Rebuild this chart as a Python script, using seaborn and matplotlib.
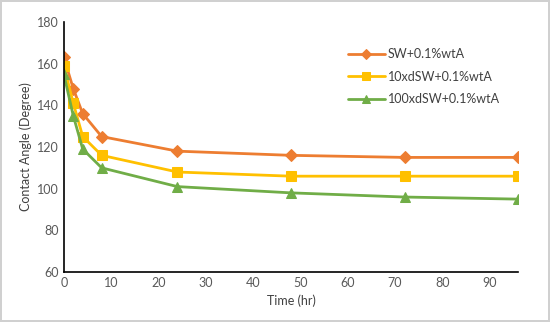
import matplotlib
matplotlib.use('Agg')
import matplotlib.pyplot as plt
import pandas as pd
import seaborn as sns

time_hr = [0, 2, 4, 8, 24, 48, 72, 96]
sw = [163, 148, 136, 125, 118, 116, 115, 115]
sw10 = [159, 141, 125, 116, 108, 106, 106, 106]
sw100 = [155, 135, 119, 110, 101, 98, 96, 95]
labels = ['SW+0.1%wtA', '10xdSW+0.1%wtA', '100xdSW+0.1%wtA']
colors = ['#ED7D31', '#FFC000', '#70AD47']
markers = ['D', 's', '^']

df = pd.DataFrame({'Time': time_hr * 3,
                   'Angle': sw + sw10 + sw100,
                   'Series': [labels[0]] * 8 + [labels[1]] * 8 + [labels[2]] * 8})

sns.set_style('white')
plt.rcParams['font.family'] = ['Lato', 'DejaVu Sans']

fig = plt.figure(figsize=(5.5, 3.22), dpi=100)
ax = fig.add_axes([0.116, 0.155, 0.826, 0.777])

for lab, c, m in zip(labels, colors, markers):
    d = df[df['Series'] == lab]
    ms = 6 if m == 'D' else 7
    sns.lineplot(data=d, x='Time', y='Angle', ax=ax, color=c, marker=m,
                 markersize=ms, markeredgecolor=c, linewidth=2, label=lab)

ax.set_xlim(0, 96)
ax.set_ylim(60, 180)
ax.set_xticks(range(0, 100, 10))
ax.set_yticks(range(60, 181, 20))
ax.set_xlabel('Time (hr)', fontsize=9, color='#404040')
ax.set_ylabel('Contact Angle (Degree)', fontsize=9, color='#404040')
ax.tick_params(direction='in', length=3, labelsize=9, labelcolor='#595959', color='black')
for s in ['top', 'right']:
    ax.spines[s].set_visible(False)
for s in ['left', 'bottom']:
    ax.spines[s].set_color('black')
    ax.spines[s].set_linewidth(1.2)

leg = ax.legend(loc='upper left', bbox_to_anchor=(0.6, 0.94), frameon=False,
                fontsize=9, handlelength=3.0, handletextpad=0.2, labelspacing=0.85,
                markerscale=0.8)
for t in leg.get_texts():
    t.set_color('#404040')

fig.patch.set_edgecolor('#d0d0d0')
fig.patch.set_linewidth(1.5)

fig.savefig('out.png', dpi=100, edgecolor=fig.get_edgecolor())
